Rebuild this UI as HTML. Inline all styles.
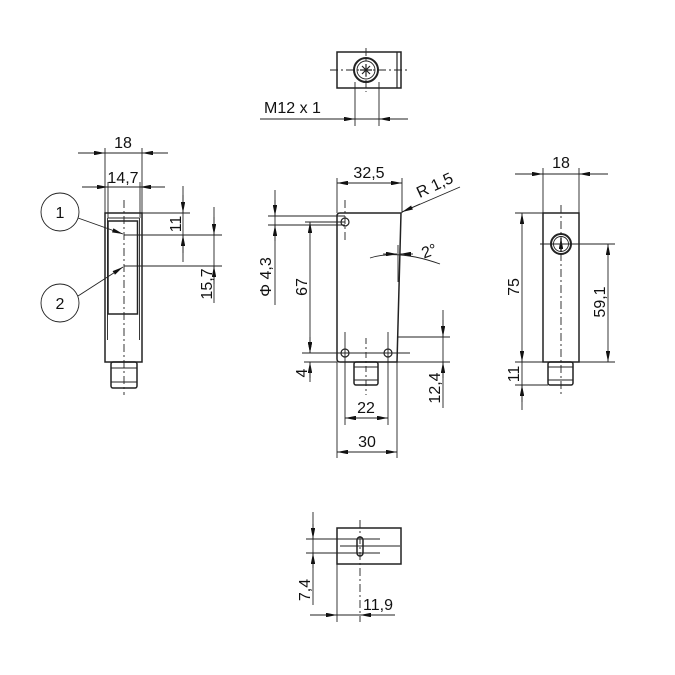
<!DOCTYPE html>
<html><head><meta charset="utf-8"><style>
html,body{margin:0;padding:0;background:#fff}
svg{display:block}
text{font-family:"Liberation Sans Narrow","Liberation Sans",sans-serif;font-size:16px;fill:#111}
</style></head><body>
<svg width="675" height="675" viewBox="0 0 675 675" xmlns="http://www.w3.org/2000/svg">
<defs>
<marker id="a" viewBox="0 0 10 4" refX="10" refY="2" markerWidth="11" markerHeight="4.4" markerUnits="userSpaceOnUse" orient="auto-start-reverse"><path d="M0,0 L10,2 L0,4 z" fill="#111"/></marker>
</defs>
<g stroke="#222" stroke-width="0.9" fill="none">
<!-- TOP VIEW -->
<rect x="337" y="52" width="64" height="36" stroke-width="1.5"/>
<line x1="397" y1="52" x2="397" y2="88" stroke-width="1.2"/>
<circle cx="366" cy="70" r="12" stroke-width="2"/>
<circle cx="366" cy="70" r="9"/>
<path d="M366,64 L366,76 M360,70 L372,70 M362,66 L370,74 M370,66 L362,74" stroke-width="1.2"/>
<line x1="330" y1="70" x2="408" y2="70" stroke-dasharray="8,3,2,3"/>
<line x1="366" y1="48" x2="366" y2="92" stroke-dasharray="8,3,2,3"/>
<line x1="355" y1="82" x2="355" y2="126"/>
<line x1="379" y1="82" x2="379" y2="126"/>
<line x1="260" y1="119" x2="408" y2="119"/>
<line x1="340" y1="119" x2="355" y2="119" marker-end="url(#a)"/>
<line x1="395" y1="119" x2="379" y2="119" marker-end="url(#a)"/>

<!-- LEFT VIEW -->
<rect x="105" y="213" width="37" height="149" stroke-width="1.5"/>
<line x1="107.5" y1="218" x2="107.5" y2="340"/>
<line x1="139.5" y1="218" x2="139.5" y2="340"/>
<line x1="108" y1="218" x2="139" y2="218"/>
<rect x="108" y="221" width="29.5" height="93" stroke-width="1.5"/>
<rect x="111" y="362" width="26" height="26" rx="2" stroke-width="1.5"/>
<line x1="111" y1="368" x2="137" y2="368"/><line x1="111" y1="382" x2="137" y2="382"/>
<line x1="124" y1="200" x2="124" y2="395" stroke-dasharray="8,3,2,3"/>
<line x1="105" y1="148" x2="105" y2="213"/><line x1="142" y1="148" x2="142" y2="213"/>
<line x1="78" y1="153" x2="168" y2="153"/>
<line x1="85" y1="153" x2="105" y2="153" marker-end="url(#a)"/>
<line x1="162" y1="153" x2="142" y2="153" marker-end="url(#a)"/>
<line x1="108" y1="182" x2="108" y2="218"/><line x1="140" y1="182" x2="140" y2="218"/>
<line x1="82" y1="187" x2="165" y2="187"/>
<line x1="90" y1="187" x2="108" y2="187" marker-end="url(#a)"/>
<line x1="160" y1="187" x2="140" y2="187" marker-end="url(#a)"/>
<line x1="142" y1="213" x2="190" y2="213"/>
<line x1="124" y1="235" x2="222" y2="235"/>
<line x1="124" y1="266" x2="222" y2="266"/>
<line x1="183" y1="186" x2="183" y2="262"/>
<line x1="183" y1="195" x2="183" y2="213" marker-end="url(#a)"/>
<line x1="183" y1="253" x2="183" y2="235" marker-end="url(#a)"/>
<line x1="214" y1="207" x2="214" y2="303"/>
<line x1="214" y1="217" x2="214" y2="235" marker-end="url(#a)"/>
<line x1="214" y1="284" x2="214" y2="266" marker-end="url(#a)"/>
<circle cx="60" cy="212" r="19"/>
<circle cx="60" cy="303" r="19"/>
<line x1="78" y1="218" x2="123" y2="234" marker-end="url(#a)"/>
<line x1="78" y1="296" x2="123" y2="267" marker-end="url(#a)"/>

<!-- MIDDLE VIEW -->
<path d="M340,213 L401,213 L397,362 L340,362 Q337,362 337,359 L337,216 Q337,213 340,213 Z" stroke-width="1.5"/>
<circle cx="345" cy="222" r="4" stroke-width="1.2"/>
<circle cx="345" cy="353" r="4" stroke-width="1.2"/>
<circle cx="388" cy="353" r="4" stroke-width="1.2"/>
<rect x="354" y="362" width="24" height="23" rx="2" stroke-width="1.5"/>
<line x1="354" y1="367" x2="378" y2="367"/><line x1="354" y1="380" x2="378" y2="380"/>
<line x1="366" y1="338" x2="366" y2="395" stroke-dasharray="6,3,2,3"/>
<line x1="345" y1="200" x2="345" y2="240" stroke-dasharray="8,3,2,3"/>
<line x1="345" y1="332" x2="345" y2="425"/>
<line x1="388" y1="332" x2="388" y2="425"/>
<line x1="302" y1="353" x2="410" y2="353"/>
<line x1="337" y1="178" x2="337" y2="213"/><line x1="402" y1="178" x2="402" y2="213"/>
<line x1="337" y1="183" x2="402" y2="183" marker-start="url(#a)" marker-end="url(#a)"/>
<line x1="402" y1="212" x2="460" y2="187"/>
<line x1="420" y1="204" x2="402" y2="212" marker-end="url(#a)"/>
<path d="M370,258 Q398,249 440,264"/>
<line x1="398" y1="245" x2="398" y2="282"/>
<line x1="383" y1="254" x2="397" y2="254" marker-end="url(#a)"/>
<line x1="413" y1="254" x2="400" y2="254" marker-end="url(#a)"/>
<line x1="268" y1="216" x2="345" y2="216"/><line x1="268" y1="225" x2="345" y2="225"/>
<line x1="275" y1="190" x2="275" y2="305"/>
<line x1="275" y1="200" x2="275" y2="216" marker-end="url(#a)"/>
<line x1="275" y1="241" x2="275" y2="225" marker-end="url(#a)"/>
<line x1="305" y1="222" x2="345" y2="222"/>
<line x1="310" y1="222" x2="310" y2="353" marker-start="url(#a)" marker-end="url(#a)"/>
<line x1="304" y1="362" x2="337" y2="362"/>
<line x1="310" y1="337" x2="310" y2="353" marker-end="url(#a)"/>
<line x1="310" y1="378" x2="310" y2="362" marker-end="url(#a)"/>
<line x1="310" y1="362" x2="310" y2="382"/>
<line x1="397" y1="337" x2="450" y2="337"/>
<line x1="397" y1="362" x2="450" y2="362"/>
<line x1="443" y1="310" x2="443" y2="408"/>
<line x1="443" y1="320" x2="443" y2="337" marker-end="url(#a)"/>
<line x1="443" y1="378" x2="443" y2="362" marker-end="url(#a)"/>
<line x1="345" y1="418" x2="388" y2="418" marker-start="url(#a)" marker-end="url(#a)"/>
<line x1="337" y1="362" x2="337" y2="458"/><line x1="397" y1="362" x2="397" y2="458"/>
<line x1="337" y1="452" x2="397" y2="452" marker-start="url(#a)" marker-end="url(#a)"/>

<!-- RIGHT VIEW -->
<rect x="543" y="213" width="36" height="149" stroke-width="1.5"/>
<circle cx="561" cy="244" r="10" stroke-width="2"/>
<circle cx="561" cy="244" r="7.5"/>
<line x1="561" y1="252" x2="561" y2="238" stroke-width="1.4" marker-end="url(#a)"/>
<rect x="548" y="362" width="25" height="23" rx="2" stroke-width="1.5"/>
<line x1="548" y1="367" x2="573" y2="367"/><line x1="548" y1="380" x2="573" y2="380"/>
<line x1="561" y1="205" x2="561" y2="395" stroke-dasharray="8,3,2,3"/>
<line x1="540" y1="244" x2="615" y2="244"/>
<line x1="543" y1="168" x2="543" y2="213"/><line x1="579" y1="168" x2="579" y2="213"/>
<line x1="515" y1="174" x2="608" y2="174"/>
<line x1="525" y1="174" x2="543" y2="174" marker-end="url(#a)"/>
<line x1="597" y1="174" x2="579" y2="174" marker-end="url(#a)"/>
<line x1="515" y1="213" x2="543" y2="213"/>
<line x1="515" y1="362" x2="615" y2="362"/>
<line x1="515" y1="385" x2="548" y2="385"/>
<line x1="522" y1="213" x2="522" y2="362" marker-start="url(#a)" marker-end="url(#a)"/>
<line x1="522" y1="362" x2="522" y2="410"/>
<line x1="522" y1="402" x2="522" y2="385" marker-end="url(#a)"/>
<line x1="608" y1="244" x2="608" y2="362" marker-start="url(#a)" marker-end="url(#a)"/>

<!-- BOTTOM VIEW -->
<rect x="337" y="528" width="64" height="36" stroke-width="1.5"/>
<rect x="357" y="537" width="6" height="19" rx="3" stroke-width="1.5"/>
<line x1="306" y1="539" x2="380" y2="539"/>
<line x1="306" y1="553" x2="380" y2="553"/>
<line x1="340" y1="546" x2="400" y2="546"/>
<line x1="360" y1="520" x2="360" y2="622" stroke-dasharray="8,3,2,3"/>
<line x1="313" y1="512" x2="313" y2="605"/>
<line x1="313" y1="524" x2="313" y2="539" marker-end="url(#a)"/>
<line x1="313" y1="568" x2="313" y2="553" marker-end="url(#a)"/>
<line x1="337" y1="564" x2="337" y2="622"/>
<line x1="310" y1="615" x2="395" y2="615"/>
<line x1="320" y1="615" x2="337" y2="615" marker-end="url(#a)"/>
<line x1="377" y1="615" x2="360" y2="615" marker-end="url(#a)"/>
</g>
<g>
<text x="264" y="113">M12 x 1</text>
<text x="123" y="148" text-anchor="middle">18</text>
<text x="123" y="183" text-anchor="middle">14,7</text>
<text x="60" y="218" text-anchor="middle">1</text>
<text x="60" y="309" text-anchor="middle">2</text>
<text transform="translate(181,224) rotate(-90)" text-anchor="middle">11</text>
<text transform="translate(212,284) rotate(-90)" text-anchor="middle">15,7</text>
<text x="369" y="178" text-anchor="middle">32,5</text>
<text transform="translate(437,190) rotate(-25)" text-anchor="middle">R 1,5</text>
<text transform="translate(431,256) rotate(-20)" text-anchor="middle">2°</text>
<text transform="translate(271,277) rotate(-90)" text-anchor="middle">Φ 4,3</text>
<text transform="translate(307,287) rotate(-90)" text-anchor="middle">67</text>
<text transform="translate(307,373) rotate(-90)" text-anchor="middle">4</text>
<text transform="translate(440,388) rotate(-90)" text-anchor="middle">12,4</text>
<text x="366" y="413" text-anchor="middle">22</text>
<text x="367" y="447" text-anchor="middle">30</text>
<text x="561" y="168" text-anchor="middle">18</text>
<text transform="translate(519,287) rotate(-90)" text-anchor="middle">75</text>
<text transform="translate(605,302) rotate(-90)" text-anchor="middle">59,1</text>
<text transform="translate(519,374) rotate(-90)" text-anchor="middle">11</text>
<text transform="translate(310,590) rotate(-90)" text-anchor="middle">7,4</text>
<text x="378" y="610" text-anchor="middle">11,9</text>
</g>
</svg>
</body></html>
